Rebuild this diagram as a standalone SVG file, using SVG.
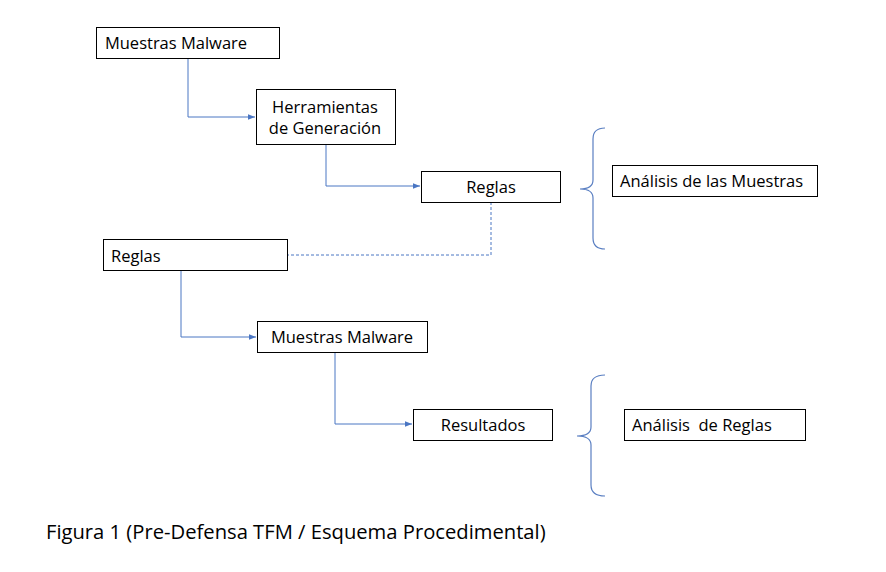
<svg xmlns="http://www.w3.org/2000/svg" width="886" height="572" viewBox="0 0 886 572">
<style>
.box{fill:#fff;stroke:#000;stroke-width:1}
.t{font-family:"Open Sans","Noto Sans","Liberation Sans",sans-serif;font-size:16.5px;fill:#000}
.c{fill:none;stroke:#4a76c3;stroke-width:1}
.d{fill:none;stroke:#4a76c3;stroke-width:1;stroke-dasharray:3 2}
.br{fill:none;stroke:#5a7fc2;stroke-width:1.2}
</style>
<defs>
<marker id="ah" viewBox="0 0 10 10" refX="10" refY="5" markerWidth="7" markerHeight="7" orient="auto" markerUnits="userSpaceOnUse">
<path d="M0,1 L10,5 L0,9 z" fill="#4a76c3"/>
</marker>
</defs>
<rect width="886" height="572" fill="#fff"/>
<g id="connectors">
<path class="c" d="M188,58 V117 H255" marker-end="url(#ah)"/>
<path class="c" d="M326,144 V186 H420" marker-end="url(#ah)"/>
<path class="d" d="M491,202 V255 H287"/>
<path class="c" d="M181,271 V337 H256" marker-end="url(#ah)"/>
<path class="c" d="M335,352 V424 H412" marker-end="url(#ah)"/>
</g>
<g id="n1"><rect class="box" x="96.5" y="27.5" width="183" height="31"/><text class="t" x="176" y="49" text-anchor="middle">Muestras Malware</text></g>
<g id="n2"><rect class="box" x="256.5" y="89.5" width="139" height="55"/><text class="t" x="325" y="113" text-anchor="middle">Herramientas</text><text class="t" x="325" y="134" text-anchor="middle">de Generación</text></g>
<g id="n3"><rect class="box" x="421.5" y="171.5" width="139" height="31"/><text class="t" x="491" y="193" text-anchor="middle">Reglas</text></g>
<g id="brace1"><path class="br" d="M605,128 Q593,128 593,139 L593,180 Q593,189 580,189 Q593,189 593,198 L593,238 Q593,249 605,249"/></g>
<g id="n4"><rect class="box" x="612.5" y="165.5" width="205" height="31"/><text class="t" x="620" y="187">Análisis de las Muestras</text></g>
<g id="n5"><rect class="box" x="103.5" y="239.5" width="184" height="31"/><text class="t" x="111" y="262">Reglas</text></g>
<g id="n6"><rect class="box" x="257.5" y="321.5" width="170" height="31"/><text class="t" x="342" y="343" text-anchor="middle">Muestras Malware</text></g>
<g id="n7"><rect class="box" x="413.5" y="409.5" width="139" height="31"/><text class="t" x="483" y="431" text-anchor="middle">Resultados</text></g>
<g id="brace2"><path class="br" d="M605,375 Q591,375 591,386 L591,427 Q591,436 577,436 Q591,436 591,445 L591,485 Q591,496 605,496"/></g>
<g id="n8"><rect class="box" x="624.5" y="409.5" width="181" height="31"/><text class="t" x="632" y="431" xml:space="preserve">Análisis  de Reglas</text></g>
<text class="t" x="46" y="539" style="font-size:20.2px">Figura 1 (Pre-Defensa TFM / Esquema Procedimental)</text>
</svg>
